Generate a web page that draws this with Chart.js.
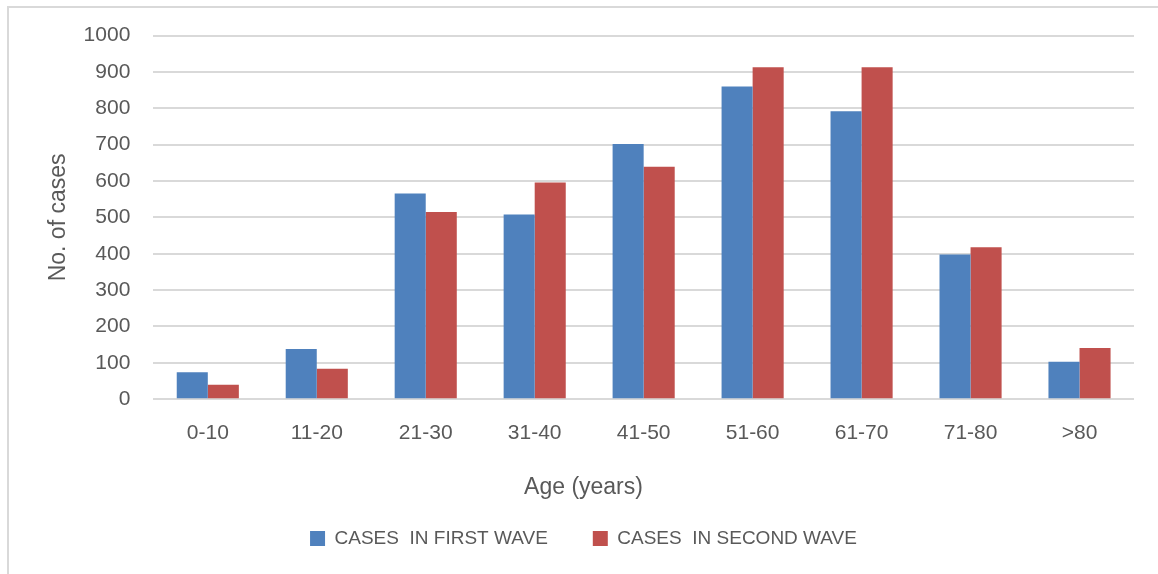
<!DOCTYPE html>
<html>
<head>
<meta charset="utf-8">
<script src="https://cdn.jsdelivr.net/npm/chart.js@4"></script>
<style>
  html, body { margin: 0; padding: 0; background: #fff; overflow: hidden; }
  #wrap { position: relative; width: 1158px; height: 574px; }
  #frame { position: absolute; left: 7px; top: 6px; width: 1200px; height: 600px;
           border-left: 2px solid #d9d9d9; border-top: 2px solid #d9d9d9; }
  canvas { position: absolute; left: 0; top: 0; }
</style>
</head>
<body>
<div id="wrap">
  <div id="frame"></div>
  <canvas id="ageChart" width="1158" height="574"></canvas>
</div>
<script>
// age groups on x axis
const ageGroups = ['0-10', '11-20', '21-30', '31-40', '41-50', '51-60', '61-70', '71-80', '>80'];
// cases per age group
const firstWave = [74, 138, 566, 508, 702, 860, 792, 398, 103];
const secondWave = [40, 84, 515, 596, 639, 913, 913, 418, 141];
const yTicks = [0, 100, 200, 300, 400, 500, 600, 700, 800, 900, 1000];

const FONT = "'Liberation Sans', Arial, sans-serif";
const GREY = '#595959';

const ctx = document.getElementById('ageChart').getContext('2d');

const data = {
  labels: ageGroups,
  datasets: [
    {
      label: 'CASES  IN FIRST WAVE',
      data: firstWave,
      backgroundColor: '#4f81bd',
      borderColor: '#4f81bd',
      borderWidth: 0,
    },
    {
      label: 'CASES  IN SECOND WAVE',
      data: secondWave,
      backgroundColor: '#c0504d',
      borderColor: '#c0504d',
      borderWidth: 0,
    }
  ]
};

const config = {
  type: 'bar',
  data: data,
  options: {
    responsive: false,
    animation: false,
    devicePixelRatio: 1,
    categoryPercentage: 0.57,
    barPercentage: 1.0,
    layout: { padding: { left: 33, right: 24, top: 18, bottom: 16 } },
    plugins: {
      tooltip: { enabled: false },
      title: {
        display: true,
        position: 'bottom',
        text: 'Age (years)',
        color: GREY,
        weight: 500,
        font: { family: FONT, size: 23, weight: 'normal' },
        // legend padding is big (item gap), pull it back up a bit
        padding: { top: 7, bottom: -17 }
      },
      legend: {
        position: 'bottom',
        labels: {
          color: GREY,
          font: { family: FONT, size: 19 },
          boxWidth: 15,
          boxHeight: 15,
          padding: 45
        }
      }
    },
    scales: {
      x: {
        grid: { display: false, drawTicks: false },
        border: { display: false },
        ticks: { color: GREY, font: { family: FONT, size: 21 }, padding: 21 }
      },
      y: {
        min: 0,
        max: 1000,
        afterBuildTicks: axis => { axis.ticks = yTicks.map(v => ({ value: v })); },
        grid: { color: '#d9d9d9', lineWidth: 2, drawTicks: false },
        border: { display: false },
        ticks: {
          color: GREY,
          font: { family: FONT, size: 21 },
          padding: 23,
          callback: v => String(v)
        },
        title: {
          display: true,
          text: 'No. of cases',
          color: GREY,
          font: { family: FONT, size: 23 },
          padding: { top: 12, bottom: -12 }
        }
      }
    }
  }
};

const myChart = new Chart(ctx, config);
</script>
</body>
</html>
